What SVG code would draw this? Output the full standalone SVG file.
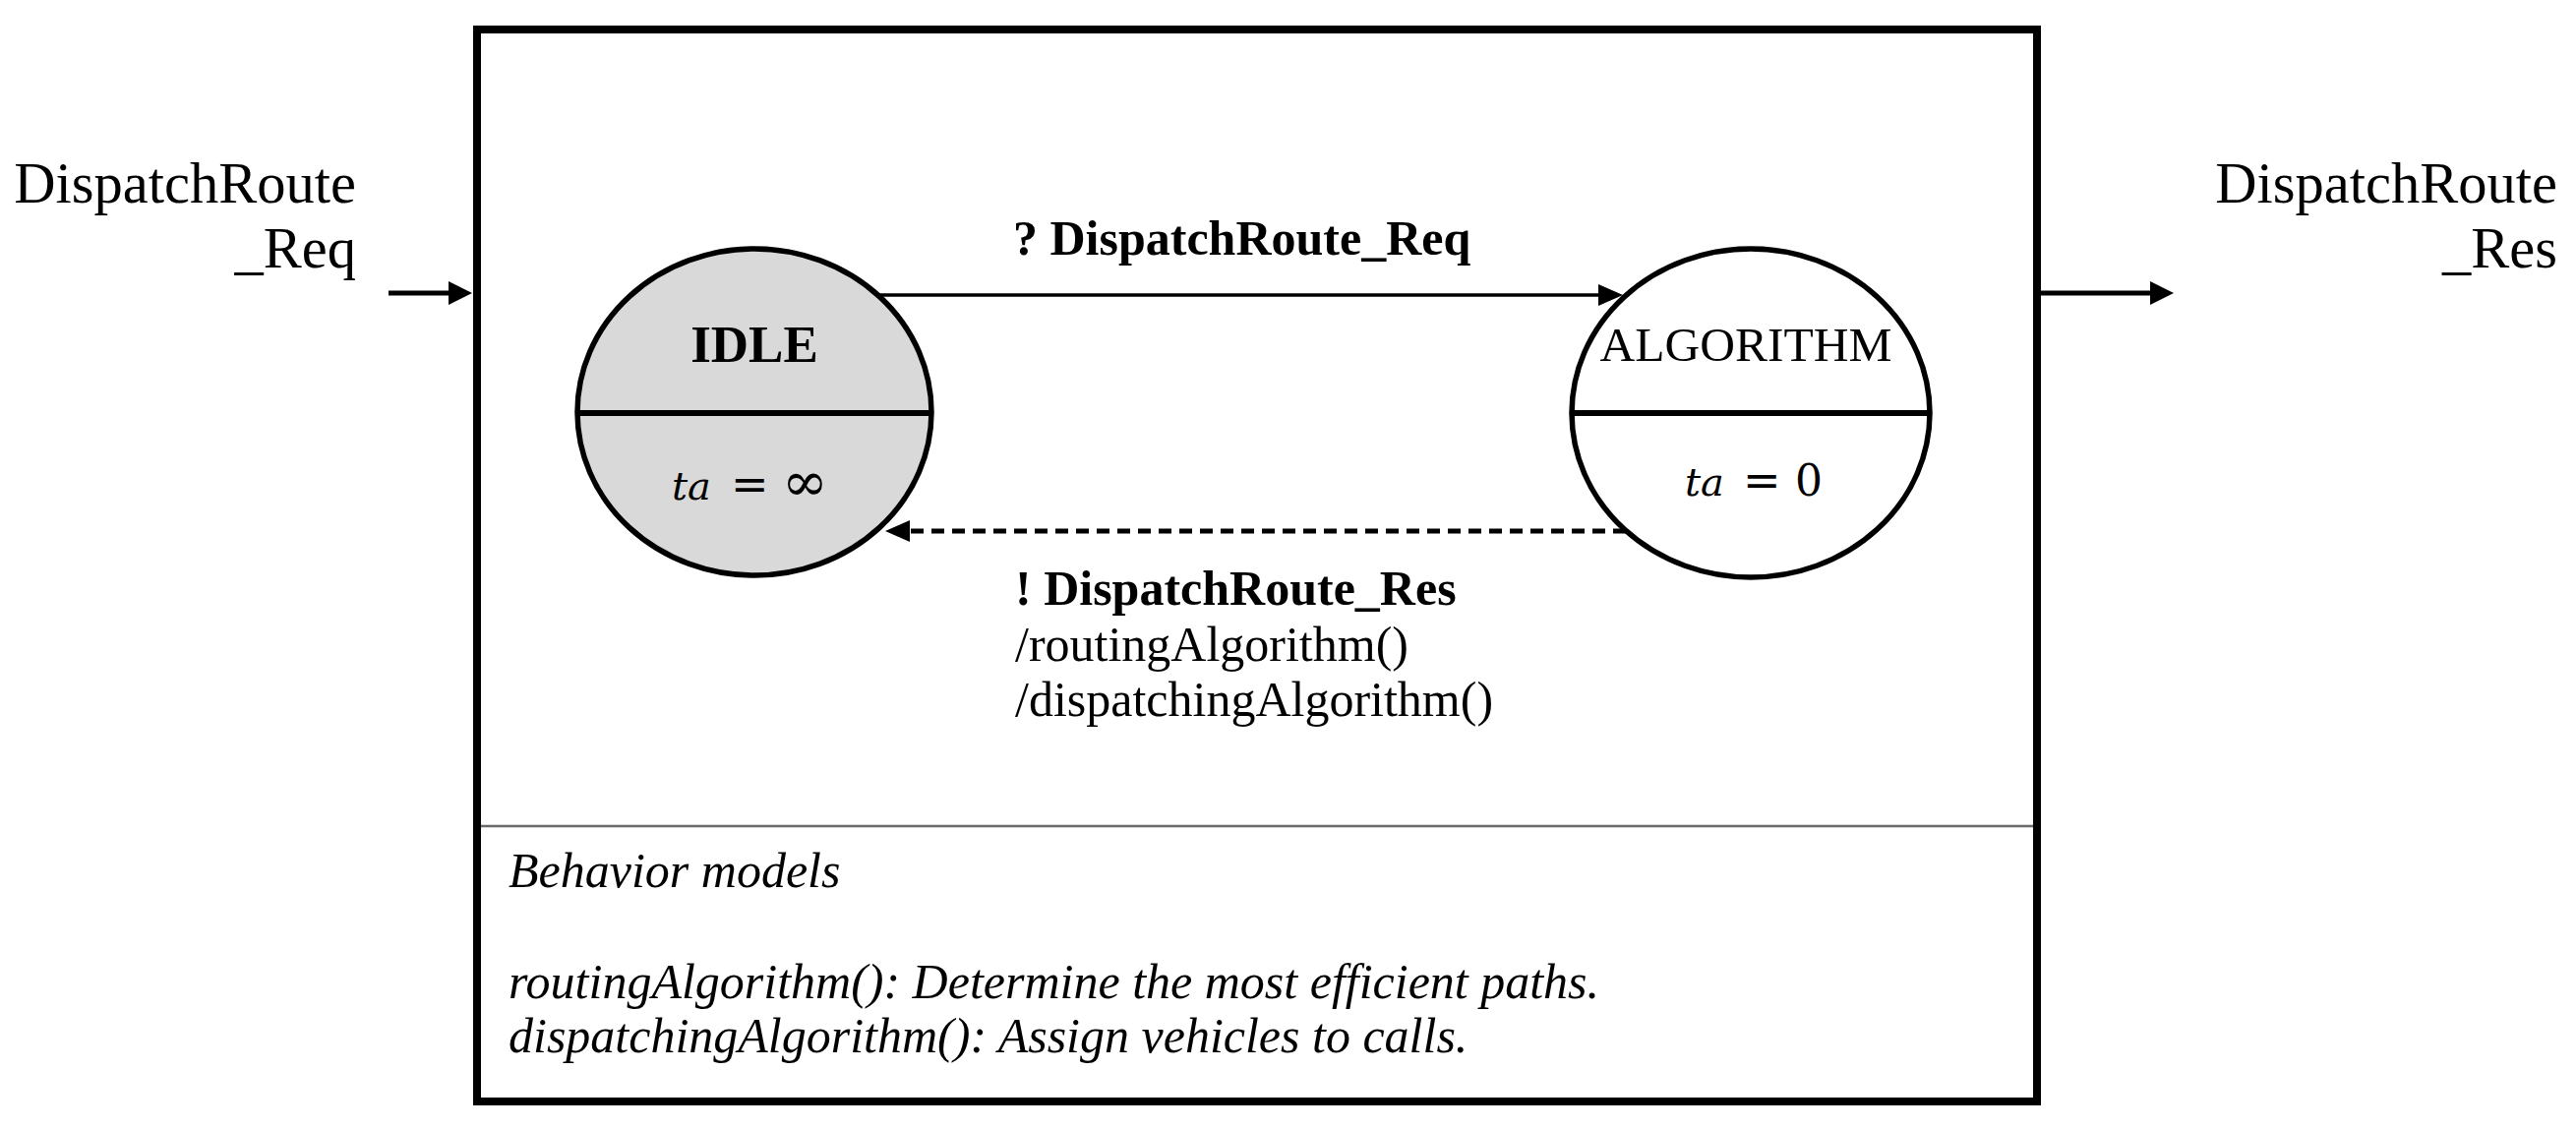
<svg xmlns="http://www.w3.org/2000/svg" width="2619" height="1148" viewBox="0 0 2619 1148">
  <style>
    .t { font-family: "Liberation Serif", "Times New Roman", serif; fill: #000; }
    .side { font-size: 58.5px; text-anchor: end; }
    .lbl { font-size: 50px; }
    .b { font-weight: bold; }
    .it { font-style: italic; }
    .math { font-family: "DejaVu Serif", serif; font-size: 40px; fill: #000; }
    .state { stroke: #000; stroke-width: 5.5; }
    .split { stroke: #000; stroke-width: 6; }
    .port { stroke: #000; stroke-width: 5; fill: none; }
    .trans { stroke: #000; stroke-width: 3.5; fill: none; }
    .out { stroke: #000; stroke-width: 5; fill: none; stroke-dasharray: 13 8; }
  </style>
  <defs>
    <marker id="headBig" viewBox="0 0 24 24" refX="14" refY="12" markerWidth="24" markerHeight="24" markerUnits="userSpaceOnUse" orient="auto">
      <path d="M0,0 L24,12 L0,24 Z" fill="#000"/>
    </marker>
    <marker id="headSmall" viewBox="0 0 25 22" refX="15" refY="11" markerWidth="25" markerHeight="22" markerUnits="userSpaceOnUse" orient="auto">
      <path d="M0,0 L25,11 L0,22 Z" fill="#000"/>
    </marker>
  </defs>

  <rect width="2619" height="1148" fill="#fff"/>

  <g id="frame">
    <rect x="485" y="30" width="1586" height="1090" fill="none" stroke="#000" stroke-width="8"/>
    <line x1="489" y1="840" x2="2067" y2="840" stroke="#6a6a6a" stroke-width="2.5"/>
  </g>

  <g id="port-in">
    <text class="t side" x="362" y="206">DispatchRoute</text>
    <text class="t side" x="362" y="272">_Req</text>
  </g>
  <g id="port-out">
    <text class="t side" x="2600" y="206">DispatchRoute</text>
    <text class="t side" x="2600" y="272">_Res</text>
  </g>

  <g id="state-idle">
    <ellipse class="state" cx="767" cy="419" rx="180" ry="166" fill="#d9d9d9"/>
    <line class="split" x1="587" y1="420" x2="947" y2="420"/>
    <text class="t b" x="767" y="368" font-size="53" text-anchor="middle">IDLE</text>
    <text class="math"><tspan x="683" y="508" font-style="italic">ta</tspan><tspan x="743" y="508" font-size="46">=</tspan><tspan x="795" y="509" font-size="56">∞</tspan></text>
  </g>

  <g id="state-algorithm">
    <ellipse class="state" cx="1780" cy="420" rx="182" ry="167" fill="#fff"/>
    <line class="split" x1="1598" y1="420" x2="1962" y2="420"/>
    <text class="t" x="1775" y="367" font-size="49.5" text-anchor="middle">ALGORITHM</text>
    <text class="math"><tspan x="1713" y="504" font-style="italic">ta</tspan><tspan x="1772" y="504" font-size="46">=</tspan><tspan x="1825" y="504" font-size="44">0</tspan></text>
  </g>

  <g id="connectors">
    <line class="port" x1="395" y1="298" x2="470" y2="298" marker-end="url(#headBig)"/>
    <line class="port" x1="2075" y1="298" x2="2200" y2="298" marker-end="url(#headBig)"/>
    <line class="trans" x1="893" y1="300" x2="1640" y2="300" marker-end="url(#headSmall)"/>
    <line class="out" x1="1653" y1="540" x2="910" y2="540" marker-end="url(#headSmall)"/>
    <text class="t lbl b" x="1030" y="259">? DispatchRoute_Req</text>
    <text class="t lbl b" x="1032" y="615">! DispatchRoute_Res</text>
    <text class="t lbl" x="1032" y="672">/routingAlgorithm()</text>
    <text class="t lbl" x="1032" y="728">/dispatchingAlgorithm()</text>
  </g>

  <g id="behavior-models">
    <text class="t lbl it" x="517" y="902">Behavior models</text>
    <text class="t lbl it" x="517" y="1015">routingAlgorithm(): Determine the most efficient paths.</text>
    <text class="t lbl it" x="517" y="1070">dispatchingAlgorithm(): Assign vehicles to calls.</text>
  </g>
</svg>
